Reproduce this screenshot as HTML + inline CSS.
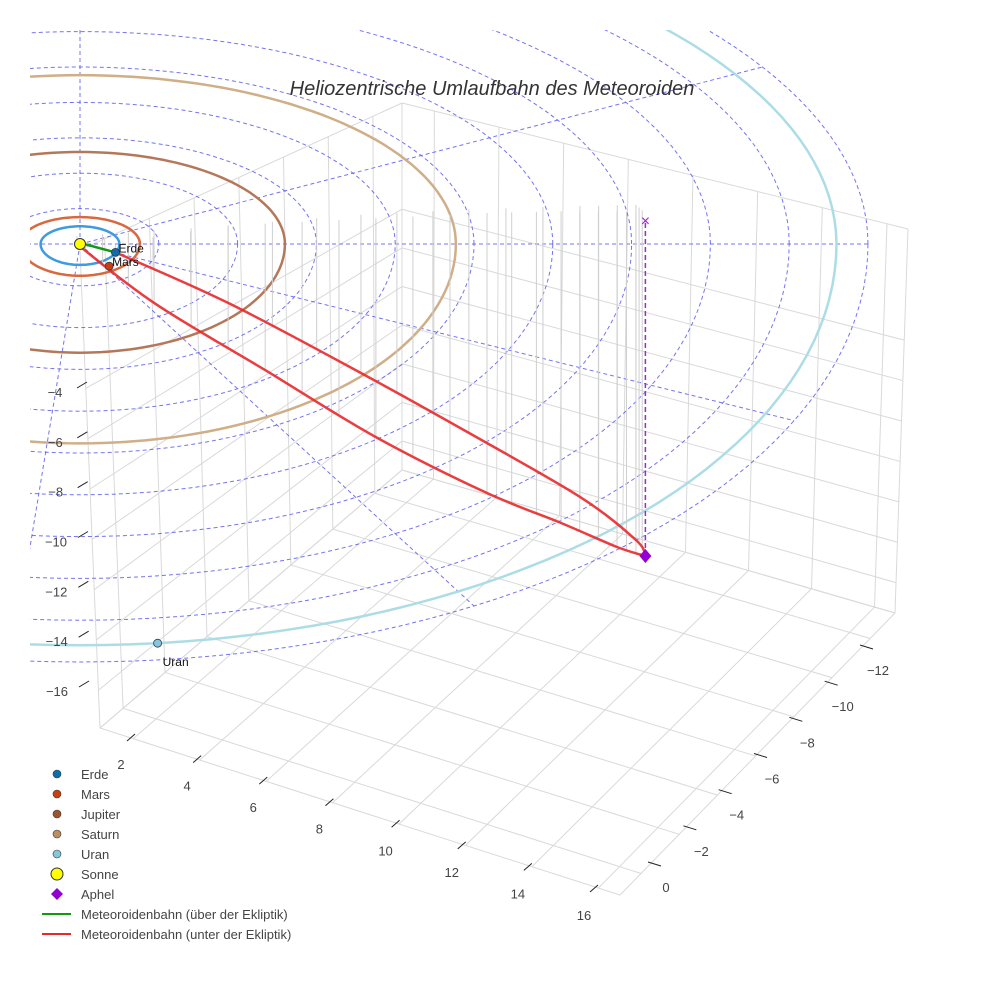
<!DOCTYPE html>
<html><head><meta charset="utf-8">
<style>
html,body{margin:0;padding:0;background:#fff;}
svg{display:block;font-family:"Liberation Sans",sans-serif;}
</style></head>
<body>
<svg id="chart" width="984" height="984" viewBox="0 0 984 984" xmlns="http://www.w3.org/2000/svg">
<defs><clipPath id="sceneClip"><rect x="30" y="30" width="954" height="954"/></clipPath></defs>
<g id="box"></g>
<g id="scene" clip-path="url(#sceneClip)"></g>
<g id="axes"></g>
<text x="492" y="95" text-anchor="middle" font-size="20" font-style="italic" fill="#333">Heliozentrische Umlaufbahn des Meteoroiden</text>
<g id="legend"></g>
</svg>
<script>
// ---- data ----
const xTicks = [2,4,6,8,10,12,14,16];
const yTicks = [0,-2,-4,-6,-8,-10,-12];
const zTicks = [-16,-14,-12,-10,-8,-6,-4];
const ringRadii = [2,4,6,8,10,12,14,16,18,20];
const radialAngles = [0,30,90,180,265,300,335];
const planetNames = ["Erde","Mars","Jupiter","Saturn","Uran"];
const planetOrbitRadii = [1.0,1.52,5.2,9.54,19.2];
const planetX = [0.9,0.74,-3.5,-8.0,1.97];
const planetY = [-0.4,-1.06,-3.9,-5.2,-19.1];
const upperX = [0.9,3.76,7.13,9.87,12.69,14.11,14.35];
const upperY = [-0.4,0.6,1.2,1.5,1.7,1.75,1.3];
const upperZ = [0,-2.78,-6.01,-8.62,-11.32,-13.08,-13.4];
const lowerX = [-0.08,1.88,4.70,7.51,10.33,12.21,13.63,14.35];
const lowerY = [0,0.3,0.7,1.0,1.3,1.4,1.4,1.3];
const lowerZ = [0,-2.57,-5.54,-8.43,-10.88,-12.15,-13.11,-13.4];
const greenX = [0,0.9];
const greenY = [0,-0.4];
const greenZ = [0.05,0];
const aphel = [14.35,1.3,-13.4];

const NS="http://www.w3.org/2000/svg";
function mk(parent,tag,attrs){const e=document.createElementNS(NS,tag);for(const k in attrs)e.setAttribute(k,attrs[k]);parent.appendChild(e);return e;}

const K=39.4;
function proj(X,Y,Z){return [80+K*X, 244-(Y>0?17.7:20.9)*Y-25*Z];}
function pts(xs,ys,zs){return xs.map((x,i)=>proj(x,ys[i],zs[i]).map(v=>v.toFixed(1)).join(",")).join(" ");}
function smooth(xs,ys,zs){const P=xs.map((x,i)=>proj(x,ys[i],zs[i]));let d="M"+P[0][0]+","+P[0][1];
for(let i=0;i<P.length-1;i++){const p0=P[Math.max(0,i-1)],p1=P[i],p2=P[i+1],p3=P[Math.min(P.length-1,i+2)];
const c1=[p1[0]+(p2[0]-p0[0])/6,p1[1]+(p2[1]-p0[1])/6],c2=[p2[0]-(p3[0]-p1[0])/6,p2[1]-(p3[1]-p1[1])/6];
d+=`C${c1[0].toFixed(1)},${c1[1].toFixed(1)} ${c2[0].toFixed(1)},${c2[1].toFixed(1)} ${p2[0].toFixed(1)},${p2[1].toFixed(1)}`;}return d;}
function circlePath(r){let d="";for(let i=0;i<=180;i++){const t=i/180*2*Math.PI;const p=proj(r*Math.cos(t),r*Math.sin(t),0);d+=(i?"L":"M")+p[0].toFixed(1)+","+p[1].toFixed(1);}return d;}

const xmin=1.0,xmax=16.65,ymin=-13.3,ymax=1.1,zmin=-17.5,zmax=1.5;
const Lb=[100,728],Fb=[620,895],Rb=[895,613],Bb=[402,470];
const Lt=[80,250],Ft=[635,380],Rt=[908,229],Bt=[402,103];
function bil(a,b,c,d,u,v){return [(1-u)*(1-v)*a[0]+u*(1-v)*b[0]+u*v*c[0]+(1-u)*v*d[0],(1-u)*(1-v)*a[1]+u*(1-v)*b[1]+u*v*c[1]+(1-u)*v*d[1]];}
function box(xv,yv,zv){const u=(xv-xmin)/(xmax-xmin),v=(ymax-yv)/(ymax-ymin),w=(zv-zmin)/(zmax-zmin);const b=bil(Lb,Fb,Rb,Bb,u,v),t=bil(Lt,Ft,Rt,Bt,u,v);return [b[0]+(t[0]-b[0])*w,b[1]+(t[1]-b[1])*w];}
const boxG=document.getElementById('box');
function gl(p,q,c){const l=mk(boxG,'line',{x1:p[0],y1:p[1],x2:q[0],y2:q[1],stroke:c||'#d9d9d9','stroke-width':1});

}
const gX=[xmin,...xTicks,xmax], gY=[ymax,...yTicks,ymin], gZ=[zmin,...zTicks,zmax];
gX.forEach(x=>{gl(box(x,ymax,zmin),box(x,ymin,zmin));gl(box(x,ymin,zmin),box(x,ymin,zmax));});
gY.forEach(y=>{gl(box(xmin,y,zmin),box(xmax,y,zmin));gl(box(xmin,y,zmin),box(xmin,y,zmax));});
gZ.forEach(z=>{gl(box(xmin,ymax,z),box(xmin,ymin,z));gl(box(xmin,ymin,z),box(xmax,ymin,z));});

const sc=document.getElementById('scene');
ringRadii.forEach(r=>{const e=mk(sc,'path',{d:circlePath(r),fill:'none',stroke:'#5c5cee','stroke-width':1,'stroke-dasharray':'4,3',opacity:0.85});

});
const rMax=ringRadii[ringRadii.length-1];
radialAngles.forEach(a=>{const t=a*Math.PI/180;const p=proj(0,0,0),q=proj(rMax*Math.cos(t),rMax*Math.sin(t),0);
const e=mk(sc,'line',{x1:p[0],y1:p[1],x2:q[0],y2:q[1],stroke:'#5c5cee','stroke-width':1,'stroke-dasharray':'4,3',opacity:0.85});

});
const orbitColors=['#3d9be0','#d8683f','#b5775a','#cfae88','#acdde6'];
planetOrbitRadii.forEach((r,i)=>{const e=mk(sc,'path',{d:circlePath(r),fill:'none',stroke:orbitColors[i],'stroke-width':2.5});

});
function drops(xs,ys,zs){for(let i=0;i<xs.length-1;i++){for(let s=0;s<3;s++){const f=s/3;const X=xs[i]+(xs[i+1]-xs[i])*f,Y=ys[i]+(ys[i+1]-ys[i])*f,Z=zs[i]+(zs[i+1]-zs[i])*f;
const p=proj(X,Y,0),q=proj(X,Y,Z);
const e=mk(sc,'line',{x1:q[0],y1:q[1],x2:p[0],y2:p[1]-8,stroke:'#cfcfcf','stroke-width':1});

}}}
drops(upperX,upperY,upperZ);drops(lowerX,lowerY,lowerZ);
let e;
e=mk(sc,'path',{d:smooth(upperX,upperY,upperZ),fill:'none',stroke:'#e8282a','stroke-width':2.5,opacity:0.9});


e=mk(sc,'path',{d:smooth(lowerX,lowerY,lowerZ),fill:'none',stroke:'#e8282a','stroke-width':2.5,opacity:0.9});


e=mk(sc,'polyline',{points:pts(greenX,greenY,greenZ),fill:'none',stroke:'#119911','stroke-width':2.5});


const ap=proj(aphel[0],aphel[1],aphel[2]),ae=proj(aphel[0],aphel[1],0);
e=mk(sc,'line',{x1:ap[0],y1:ap[1],x2:ae[0],y2:ae[1],stroke:'#9a2cc8','stroke-width':1.5,'stroke-dasharray':'5,3'});


e=mk(sc,'text',{x:ae[0],y:ae[1]+5,'text-anchor':'middle','font-size':16,fill:'#a020d0'});e.textContent='×';


e=mk(sc,'path',{d:`M${ap[0]},${ap[1]-7}L${ap[0]+6},${ap[1]}L${ap[0]},${ap[1]+7}L${ap[0]-6},${ap[1]}Z`,fill:'#9400d3'});


const sp=proj(0,0,0);
e=mk(sc,'circle',{cx:sp[0],cy:sp[1],r:5.5,fill:'#ffff00',stroke:'#333','stroke-width':1});


const markerColors=['#0b6fa8','#c8400f','#a0522d','#bc8f62','#87c5dc'];
[0,1,4].forEach(i=>{const p=proj(planetX[i],planetY[i],0);
const c=mk(sc,'circle',{cx:p[0],cy:p[1],r:4,fill:markerColors[i],stroke:'#335','stroke-width':0.8});


const t=mk(sc,'text',{x:p[0]+(i==4?5:3),y:p[1]+(i==4?23:0),'font-size':12,fill:'#111'});t.textContent=planetNames[i];

});

const ax=document.getElementById('axes');
function fmt(v){return v<0?'\u2212'+Math.abs(v):String(v);}
function ticks(vals,p0,p1,off0,off1,name){vals.forEach((v,i)=>{const f=i/(vals.length-1);const x=p0[0]+(p1[0]-p0[0])*f,y=p0[1]+(p1[1]-p0[1])*f;
const t=mk(ax,'text',{x:x,y:y+5,'text-anchor':'middle','font-size':13,fill:'#444'});t.textContent=fmt(v);


const l=mk(ax,'line',{x1:x+off0[0],y1:y+off0[1],x2:x+off1[0],y2:y+off1[1],stroke:'#222','stroke-width':1});

});}
ticks(xTicks,[121,764],[584,915],[6,-23],[14,-30],'x-axis');
ticks(yTicks,[666,887],[878,670],[-18,-25],[-5,-21],'y-axis');
ticks(zTicks,[57,691],[55,392],[22,-4],[32,-10],'z-axis');

const lg=document.getElementById('legend');
const legendItems=[["Erde","dot","#0b6fa8"],["Mars","dot","#c8400f"],["Jupiter","dot","#a0522d"],["Saturn","dot","#bc8f62"],["Uran","dot","#87c5dc"],["Sonne","sun","#ffff00"],["Aphel","diamond","#9400d3"],["Meteoroidenbahn (über der Ekliptik)","line","#119911"],["Meteoroidenbahn (unter der Ekliptik)","line","#e8282a"]];
legendItems.forEach((it,i)=>{const y=774+i*20;const g=mk(lg,'g',{});


if(it[1]=='dot')mk(g,'circle',{cx:57,cy:y,r:4,fill:it[2],stroke:'#333','stroke-width':0.6});
else if(it[1]=='sun')mk(g,'circle',{cx:57,cy:y,r:6,fill:it[2],stroke:'#333','stroke-width':1});
else if(it[1]=='diamond')mk(g,'path',{d:`M57,${y-6}L63,${y}L57,${y+6}L51,${y}Z`,fill:it[2]});
else mk(g,'line',{x1:42,y1:y,x2:71,y2:y,stroke:it[2],'stroke-width':2});
const t=mk(g,'text',{x:81,y:y+5,'font-size':13,fill:'#444'});t.textContent=it[0];});
</script>
</body></html>
